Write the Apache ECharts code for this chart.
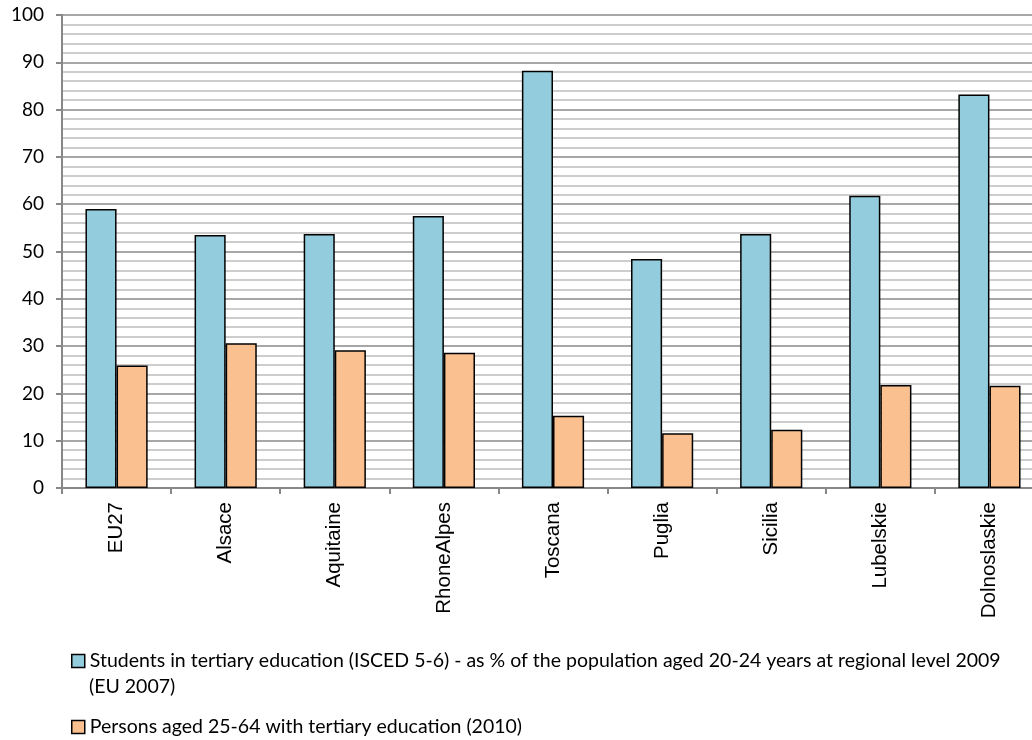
<!DOCTYPE html>
<html>
<head>
<meta charset="utf-8">
<script src="https://cdn.jsdelivr.net/npm/echarts@6/dist/echarts.min.js"></script>
<style>
  html, body { margin: 0; padding: 0; background: #fff; overflow: hidden; }
  #chart { width: 1032px; height: 740px; }
</style>
</head>
<body>
<div id="chart"></div>
<script>
// Regions compared
const regions = ['EU27', 'Alsace', 'Aquitaine', 'RhoneAlpes', 'Toscana', 'Puglia', 'Sicilia', 'Lubelskie', 'Dolnoslaskie'];

// Students in tertiary education, % of population aged 20-24
const studentsShare = [59.0, 53.5, 53.7, 57.5, 88.2, 48.4, 53.7, 61.8, 83.2];

// Persons aged 25-64 with tertiary education, %
const tertiaryShare = [25.9, 30.6, 29.1, 28.6, 15.3, 11.6, 12.3, 21.8, 21.6];

const seriesNames = [
  'Students in tertiary education (ISCED 5-6) - as % of the population aged 20-24 years at regional level 2009',
  'Persons aged 25-64 with tertiary education (2010)'
];
const seriesNameTail = '(EU 2007)';

const sansLabel = 'Lato, "Open Sans", sans-serif';

const chart = echarts.init(document.getElementById('chart'), null, { renderer: 'canvas' });

const legendText = { color: '#000', fontSize: 19.5, fontFamily: sansLabel };
const legendCommon = {
  left: 71,
  icon: 'rect',
  itemWidth: 13,
  itemHeight: 13,
  itemGap: 0,
  padding: 0,
  selectedMode: false,
  itemStyle: { borderColor: '#000', borderWidth: 1.5 },
  textStyle: legendText
};

chart.setOption({
  animation: false,
  backgroundColor: '#fff',
  // the plot runs slightly past the right edge of the canvas
  grid: { left: 62, top: 15, width: 982, height: 473, containLabel: false, outerBoundsMode: 'none' },
  legend: [
    Object.assign({ data: [seriesNames[0]], top: 651 }, legendCommon),
    Object.assign({ data: [seriesNames[1]], top: 717 }, legendCommon)
  ],
  graphic: [
    {
      type: 'text',
      left: 89,
      top: 677,
      style: { text: seriesNameTail, fill: '#000', fontSize: 19.5, fontFamily: sansLabel }
    }
  ],
  xAxis: {
    type: 'category',
    data: regions,
    axisLine: { show: true, lineStyle: { color: '#888', width: 2 } },
    axisTick: { show: true, alignWithLabel: false, length: 6, lineStyle: { color: '#888', width: 2 } },
    axisLabel: {
      rotate: 90,
      margin: 14,
      color: '#000',
      fontSize: 20.5,
      fontFamily: '"Liberation Sans", Arial, sans-serif'
    }
  },
  yAxis: {
    type: 'value',
    min: 0,
    max: 100,
    interval: 10,
    axisLine: { show: true, lineStyle: { color: '#888', width: 2 } },
    axisTick: { show: true, length: 6, lineStyle: { color: '#888', width: 2 } },
    axisLabel: { color: '#000', fontSize: 19, fontFamily: sansLabel, margin: 18 },
    splitLine: { show: true, lineStyle: { color: '#8a8a8a', width: 1.5 } },
    minorTick: { show: false, splitNumber: 5 },
    minorSplitLine: { show: true, lineStyle: { color: '#bdbdbd', width: 1.5 } }
  },
  series: [
    {
      name: seriesNames[0],
      type: 'bar',
      data: studentsShare,
      barGap: '0%',
      barCategoryGap: '43%',
      itemStyle: { color: '#93CDDD', borderColor: '#000', borderWidth: 1.5 }
    },
    {
      name: seriesNames[1],
      type: 'bar',
      data: tertiaryShare,
      barGap: '0%',
      barCategoryGap: '43%',
      itemStyle: { color: '#FAC090', borderColor: '#000', borderWidth: 1.5 }
    }
  ]
});
</script>
</body>
</html>
